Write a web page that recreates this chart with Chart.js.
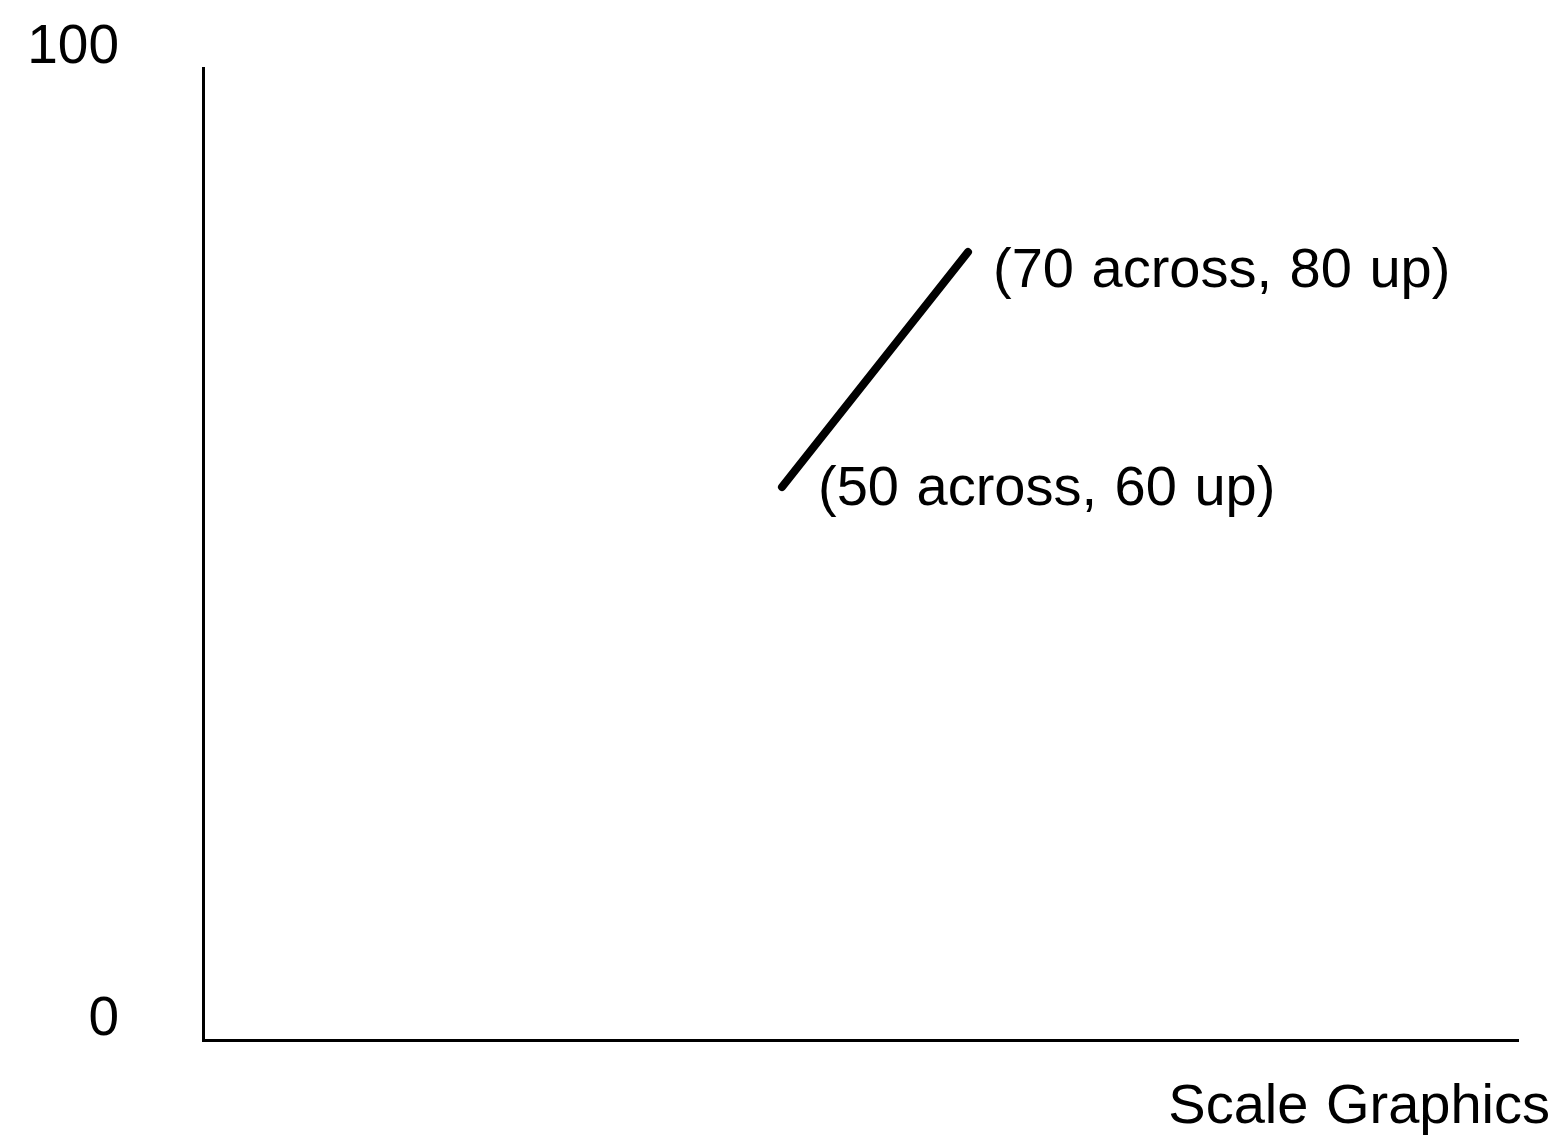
<!DOCTYPE html>
<html lang="en">

<head>
    <meta charset="UTF-8">
    <title>Scale Graphics</title>
    <script src="https://cdn.jsdelivr.net/npm/chart.js"></script>
    <style>
        html, body { margin: 0; padding: 0; background: #ffffff; }
        canvas { display: block; }
    </style>
</head>

<body>
    <canvas id="grafico" width="1557" height="1143"></canvas>
</body>

</html>

<script>

    // dados
    const across = [50, 70];
    const up = [60, 80];
    const pointLabels = ['(50 across, 60 up)', '(70 across, 80 up)'];
    const yTicks = [0, 100];
    const xTitle = 'Scale Graphics';

    const fonte = '"Liberation Sans", Arial, Helvetica, sans-serif';

    // desenho original nao esta em escala: a linha usa um eixo escondido
    const textos = {
        id: 'textos',
        afterDatasetsDraw(chart) {
            const ctx = chart.ctx;
            const meta = chart.getDatasetMeta(0);
            const desloc = [[36, 3], [25, 20]];
            ctx.save();
            ctx.fillStyle = '#000';
            ctx.font = '56px ' + fonte;
            ctx.wordSpacing = '2px';
            ctx.textBaseline = 'middle';
            ctx.textAlign = 'left';
            meta.data.forEach((pt, i) => {
                ctx.fillText(pointLabels[i], pt.x + desloc[i][0], pt.y + desloc[i][1]);
            });
            ctx.textAlign = 'right';
            ctx.fillText(xTitle, chart.width - 7, chart.chartArea.bottom + 68);
            ctx.restore();
        }
    };

    const data = {
        datasets: [{
            data: across.map((x, i) => ({ x: x, y: up[i] })),
            showLine: true,
            borderColor: '#000',
            borderWidth: 8,
            borderCapStyle: 'round',
            pointRadius: 0,
            yAxisID: 'yd'
        }]
    };

    const options = {
        responsive: false,
        animation: false,
        layout: {
            padding: { top: 68, left: 29, right: 39, bottom: 103 }
        },
        plugins: {
            legend: { display: false },
            tooltip: { enabled: false }
        },
        scales: {
            x: {
                type: 'linear',
                min: -12.26,
                max: 129.14,
                grid: { display: false, drawTicks: false },
                ticks: { display: false },
                border: { display: true, color: '#000', width: 3 }
            },
            y: {
                type: 'linear',
                position: 'left',
                min: 0,
                max: 100,
                afterBuildTicks: (scale) => {
                    scale.ticks = yTicks.map(v => ({ value: v }));
                },
                afterFit: (scale) => {
                    scale.width = 174;
                    scale.paddingTop = 0;
                    scale.paddingBottom = 0;
                },
                grid: { display: false, drawTicks: false },
                border: { display: true, color: '#000', width: 3 },
                ticks: {
                    color: '#000',
                    padding: 84,
                    labelOffset: -20,
                    font: { family: fonte, size: 55 }
                }
            },
            yd: {
                type: 'linear',
                display: false,
                min: 12.94,
                max: 95.66
            }
        }
    };

    let ctx = document.getElementById('grafico').getContext('2d');

    let grafico = new Chart(ctx, {
        type: 'scatter',
        data: data,
        options: options,
        plugins: [textos]
    });

</script>
